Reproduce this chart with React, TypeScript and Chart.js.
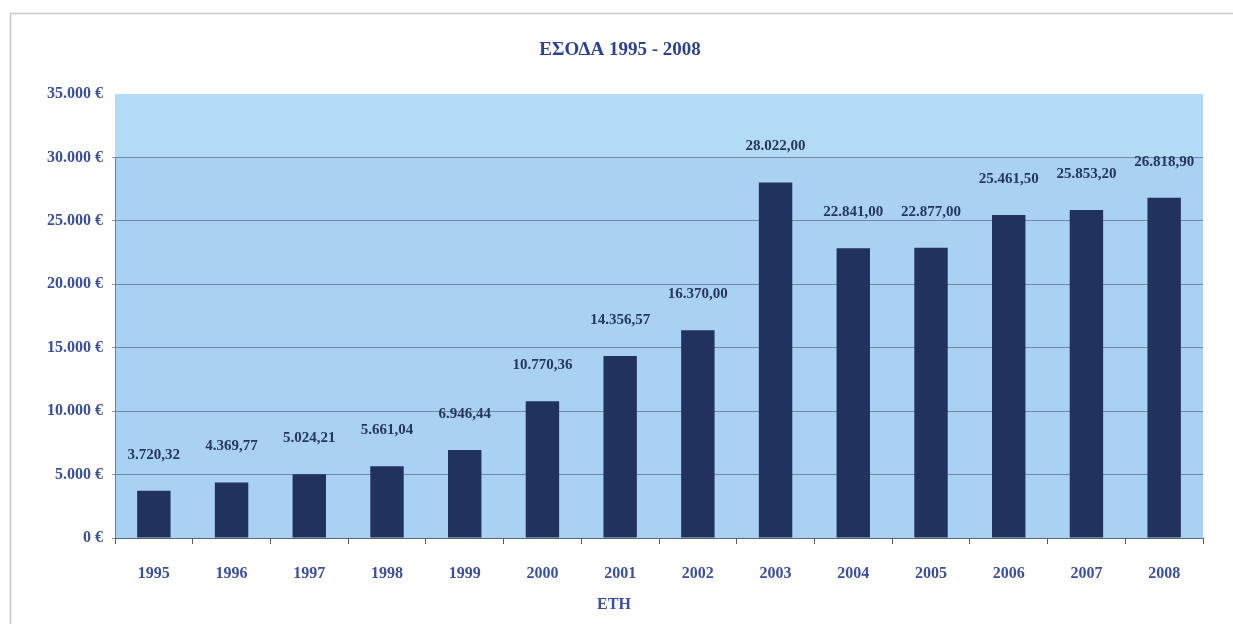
import React, { useEffect, useRef } from "react";
import { Chart, registerables } from "chart.js";

Chart.register(...registerables);

const years = ["1995", "1996", "1997", "1998", "1999", "2000", "2001", "2002", "2003", "2004", "2005", "2006", "2007", "2008"];
const revenues = [3720.32, 4369.77, 5024.21, 5661.04, 6946.44, 10770.36, 14356.57, 16370.0, 28022.0, 22841.0, 22877.0, 25461.5, 25853.2, 26818.9];
const yTicks = [0, 5000, 10000, 15000, 20000, 25000, 30000, 35000];
const chartTitle = "ΕΣΟΔΑ 1995 - 2008";
const xTitle = "ΕΤΗ";

function groupThousands(intPart: string): string {
  let out = "";
  for (let i = 0; i < intPart.length; i++) {
    const fromEnd = intPart.length - i;
    out += intPart[i];
    if (fromEnd > 1 && (fromEnd - 1) % 3 === 0) out += ".";
  }
  return out;
}

function fmtValue(v: number): string {
  const [i, d] = v.toFixed(2).split(".");
  return groupThousands(i) + "," + d;
}

function fmtTick(v: number): string {
  return groupThousands(String(Math.round(v))) + " €";
}

const FONT = "'Liberation Serif', 'DejaVu Serif', serif";

export default function App() {
  const ref = useRef<HTMLCanvasElement | null>(null);

  useEffect(() => {
    if (!ref.current) return;

    const decor = {
      id: "decor",
      beforeDraw(chart: any) {
        const { ctx, chartArea } = chart;
        const y = chart.scales.y;
        const yBand = y.getPixelForValue(30000);
        ctx.save();
        // outer frame
        ctx.strokeStyle = "#c9c9c9";
        ctx.lineWidth = 1.5;
        ctx.beginPath();
        ctx.moveTo(10.5, 624);
        ctx.lineTo(10.5, 13.5);
        ctx.lineTo(1233, 13.5);
        ctx.stroke();
        // upper lighter band
        ctx.fillStyle = "#b2dbf8";
        ctx.fillRect(chartArea.left, chartArea.top, chartArea.right - chartArea.left, yBand - chartArea.top);
        // main plot fill
        ctx.fillStyle = "#a8d1f3";
        ctx.fillRect(chartArea.left, yBand, chartArea.right - chartArea.left, chartArea.bottom - yBand);
        ctx.restore();
      },
      afterDraw(chart: any) {
        const { ctx, chartArea } = chart;
        const y = chart.scales.y;
        const yBand = y.getPixelForValue(30000);
        ctx.save();
        ctx.strokeStyle = "#6f7f95";
        ctx.lineWidth = 1;
        ctx.beginPath();
        ctx.moveTo(chartArea.left + 0.5, yBand);
        ctx.lineTo(chartArea.left + 0.5, chartArea.bottom);
        ctx.stroke();
        ctx.textAlign = "center";
        ctx.textBaseline = "middle";
        // chart title
        ctx.fillStyle = "#2e4290";
        ctx.font = "bold 19px " + FONT;
        ctx.fillText(chartTitle, 620, 50);
        // x axis title
        ctx.fillStyle = "#3a4f9e";
        ctx.font = "bold 16px " + FONT;
        ctx.fillText(xTitle, 614, 605);
        ctx.restore();
      },
      afterDatasetsDraw(chart: any) {
        const { ctx } = chart;
        const meta = chart.getDatasetMeta(0);
        ctx.save();
        ctx.fillStyle = "#26365f";
        ctx.font = "bold 15px " + FONT;
        ctx.textAlign = "center";
        ctx.textBaseline = "middle";
        meta.data.forEach((bar: any, i: number) => {
          ctx.fillText(fmtValue(revenues[i]), bar.x, bar.y - 36);
        });
        ctx.restore();
      },
    };

    const chart = new Chart(ref.current, {
      type: "bar",
      data: {
        labels: years,
        datasets: [
          {
            data: revenues,
            backgroundColor: "#21325e",
            borderWidth: 0,
            barPercentage: 0.43,
            categoryPercentage: 1,
          },
        ],
      },
      options: {
        responsive: false,
        animation: false,
        layout: { padding: { left: 0, right: 30, top: 94, bottom: 0 } },
        plugins: {
          legend: { display: false },
          tooltip: { enabled: false },
          title: { display: false },
        },
        scales: {
          x: {
            afterFit: (s: any) => {
              s.height = 86;
            },
            grid: {
              display: true,
              drawOnChartArea: false,
              tickLength: 6,
              color: "#555b66",
            },
            border: { display: true, color: "#5c6675", width: 1 },
            ticks: {
              color: "#3a4f9e",
              font: { family: FONT, size: 16, weight: "bold" },
              padding: 20,
              maxRotation: 0,
            },
          },
          y: {
            min: 0,
            max: 35000,
            afterFit: (s: any) => {
              s.width = 115;
            },
            afterBuildTicks: (s: any) => {
              s.ticks = yTicks.map((v) => ({ value: v }));
            },
            grid: {
              color: (c: any) => (c.tick && c.tick.value === 35000 ? "rgba(0,0,0,0)" : "rgba(95,110,135,0.75)"),
              lineWidth: 1,
              tickLength: 3,
            },
            border: { display: false },
            ticks: {
              color: "#3a4f9e",
              font: { family: FONT, size: 16, weight: "bold" },
              padding: 9,
              callback: (v: any) => fmtTick(Number(v)),
            },
          },
        },
      },
      plugins: [decor],
    });

    return () => chart.destroy();
  }, []);

  return (
    <div style={{ position: "absolute", left: 0, top: 0, width: 1233, height: 624, background: "#ffffff" }}>
      <canvas ref={ref} width={1233} height={624} style={{ display: "block", width: 1233, height: 624 }} />
    </div>
  );
}
